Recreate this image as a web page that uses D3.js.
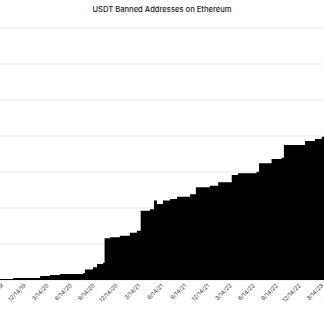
<!DOCTYPE html>
<html>
<head>
<meta charset="utf-8">
<script src="https://cdn.jsdelivr.net/npm/d3@7"></script>
<style>
  html, body { margin: 0; padding: 0; background: #fff; }
  svg { display: block; font-family: Inter, "Noto Sans", sans-serif; }
</style>
</head>
<body>
<svg id="chart" width="324" height="333"></svg>
<script>
// banned address count (cumulative)
const dates = [
  '2019-09-02', '2019-10-24', '2020-02-09', '2020-03-19', '2020-04-28',
  '2020-07-29', '2020-08-06', '2020-09-07', '2020-09-23', '2020-10-17',
  '2020-10-23', '2020-11-14', '2020-12-23', '2021-02-01', '2021-03-01',
  '2021-03-16', '2021-04-22', '2021-05-08', '2021-05-20', '2021-06-13',
  '2021-07-11', '2021-08-08', '2021-09-29', '2021-10-22', '2021-12-17',
  '2022-01-19', '2022-03-14', '2022-04-08', '2022-06-21', '2022-07-01',
  '2022-08-20', '2022-09-29', '2022-10-08', '2022-12-31', '2023-02-09',
  '2023-03-08', '2023-03-17', '2023-03-25',
];
const banned = [
  6, 11, 22, 28, 33,
  37, 59, 71, 89, 96,
  232, 237, 246, 263, 274,
  385, 393, 441, 422, 441,
  450, 463, 476, 515, 524,
  543, 583, 593, 602, 648,
  672, 679, 750, 772, 783,
  796, 811, 811,
];
const tickLabels = [
  '9/14/19', '12/14/19', '3/14/20', '6/14/20', '9/14/20', '12/14/20',
  '3/14/21', '6/14/21', '9/14/21', '12/14/21', '3/14/22', '6/14/22',
  '9/14/22', '12/14/22', '3/14/23',
];
const gridValues = [0, 200, 400, 600, 800, 1000, 1200, 1400];

const width = 324;
const height = 333;
const margin = { top: 28, right: 0, bottom: 53, left: 0 };

const parse = d3.timeParse('%Y-%m-%d');
const parseTick = d3.timeParse('%m/%d/%y');
const data = dates.map((d, i) => ({ date: parse(d), value: banned[i] }));

const svg = d3.select('#chart');

const x = d3.scaleTime()
  .domain([parse('2019-09-02'), parse('2023-03-17')])
  .range([margin.left, width - margin.right]);

const y = d3.scaleLinear()
  .domain([0, 1400])
  .range([height - margin.bottom, margin.top]);

// title
svg.append('text')
  .attr('x', width / 2)
  .attr('y', 12)
  .attr('text-anchor', 'middle')
  .attr('fill', '#222')
  .style('font-size', '7.6px')
  .style('font-weight', 500)
  .text('USDT Banned Addresses on Ethereum');

// gridlines
svg.append('g')
  .attr('class', 'grid')
  .selectAll('line')
  .data(gridValues)
  .join('line')
  .attr('x1', 0)
  .attr('x2', width)
  .attr('y1', (d) => y(d))
  .attr('y2', (d) => y(d))
  .attr('stroke', '#efefef')
  .attr('stroke-width', 1.5);

// area
const area = d3.area()
  .curve(d3.curveStepAfter)
  .x((d) => x(d.date))
  .y0(y(0))
  .y1((d) => y(d.value));

svg.append('path')
  .datum(data)
  .attr('fill', '#000')
  .attr('d', area);

// x axis labels
const xAxis = d3.axisBottom(x)
  .tickValues(tickLabels.map(parseTick))
  .tickFormat((d, i) => tickLabels[i])
  .tickSize(0)
  .tickPadding(0);

svg.append('g')
  .attr('transform', `translate(0,${y(0)})`)
  .call(xAxis)
  .call((g) => g.select('.domain').remove())
  .call((g) => g.selectAll('text')
    .attr('y', 0)
    .attr('dy', 0)
    .attr('transform', 'translate(0,6) rotate(-45)')
    .attr('text-anchor', 'end')
    .attr('fill', '#333')
    .style('font-family', 'Inter, "Noto Sans", sans-serif')
    .style('font-size', '5.8px'));
</script>
</body>
</html>
